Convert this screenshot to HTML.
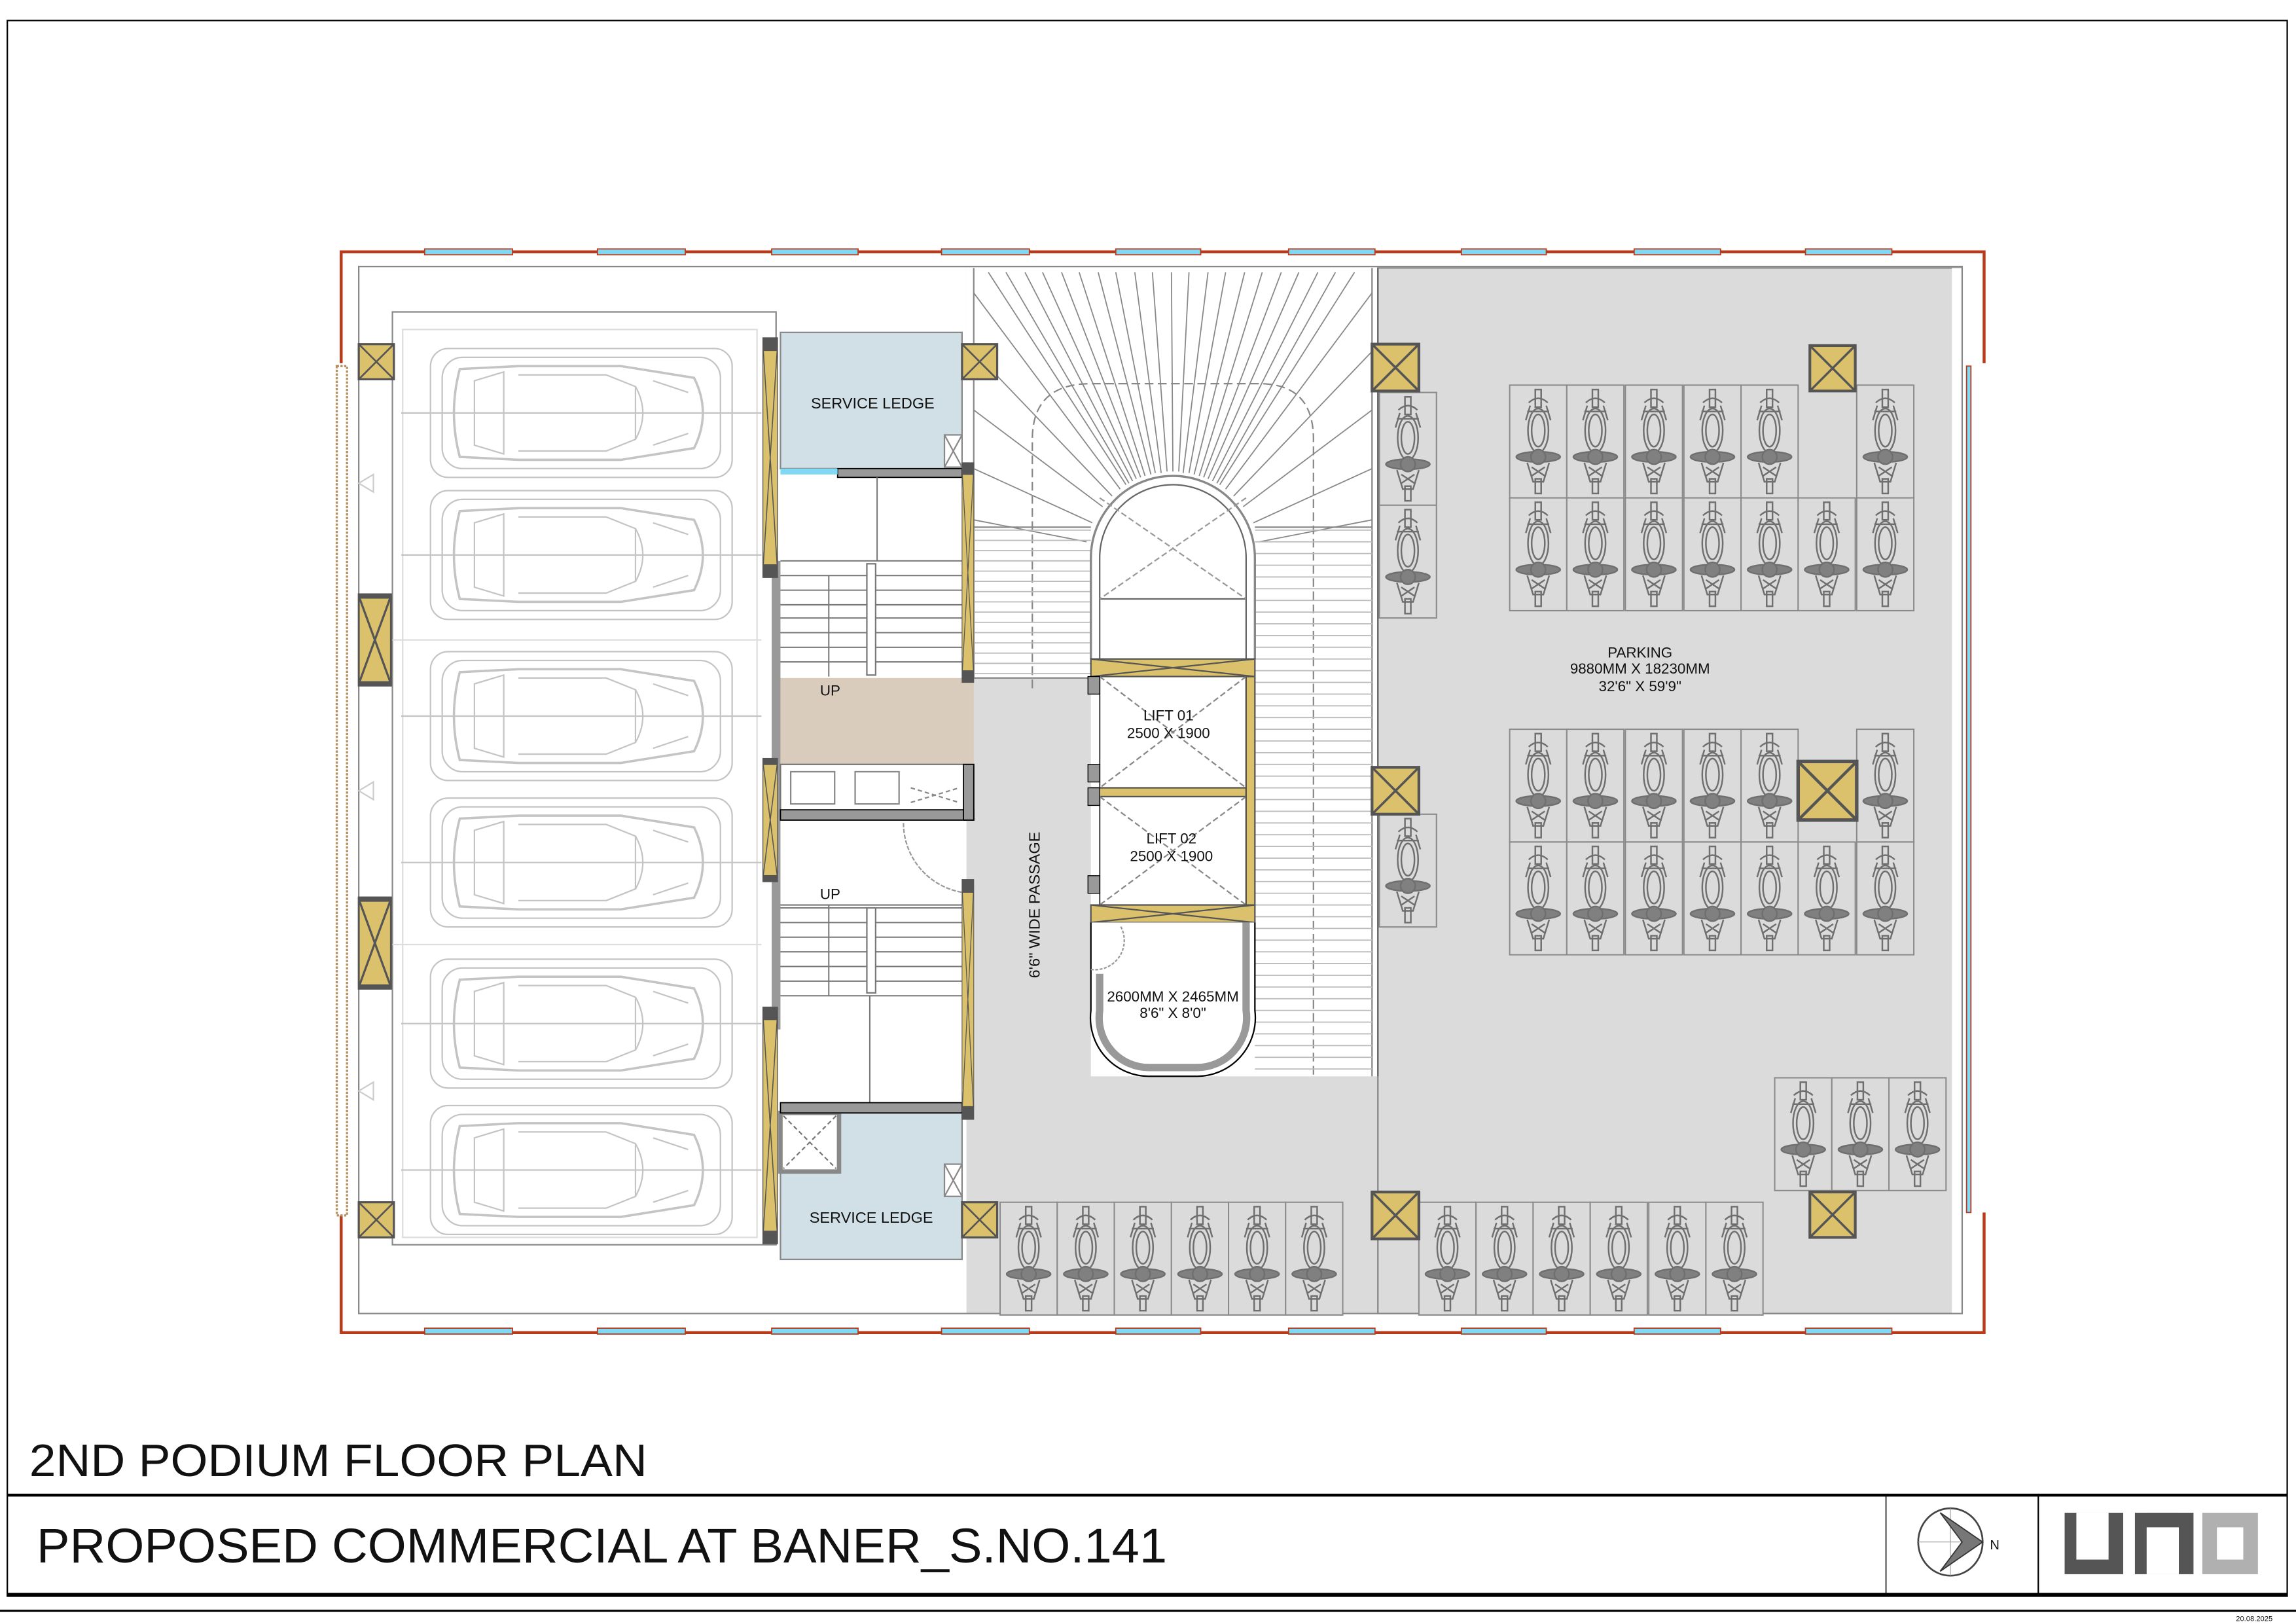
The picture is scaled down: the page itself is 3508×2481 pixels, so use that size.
<!DOCTYPE html>
<html><head><meta charset="utf-8"><style>
html,body{margin:0;padding:0;background:#fff;}
svg{display:block;}
text{font-family:"Liberation Sans",Arial,sans-serif;fill:#111;}
</style></head><body>
<svg width="3508" height="2481" viewBox="0 0 1568 1109" preserveAspectRatio="none" xmlns="http://www.w3.org/2000/svg">
<defs>
<g id="bike" fill="none" stroke="#6f6f6f" stroke-width="1.1">
 <rect x="0" y="0" width="39" height="77" fill="#dbdbdb" stroke="#8a8a8a" stroke-width="0.9"/>
 <rect x="17.5" y="3" width="4" height="12"/>
 <path d="M13 12 Q19.5 6 26 12 M12 18 L27 18"/>
 <ellipse cx="19.5" cy="31" rx="7" ry="15"/>
 <ellipse cx="19.5" cy="31" rx="4.5" ry="11"/>
 <ellipse cx="19.5" cy="49" rx="15" ry="3.5" fill="#808080"/>
 <circle cx="19.5" cy="49" r="5" fill="#808080"/>
 <path d="M12 53 L16 66 L23 66 L27 53 M15 56 L24 62 M24 56 L15 62"/>
 <rect x="17.5" y="64" width="4" height="10"/>
 <path d="M14 14 L11 24 M25 14 L28 24"/>
</g>
<g id="col">
 <rect x="0" y="0" width="1" height="1" fill="#dcc16c" stroke="#555" stroke-width="0.06"/>
 <path d="M0 0 L1 1 M1 0 L0 1" stroke="#555" stroke-width="0.05"/>
</g>
<g id="car" fill="none" stroke="#c4c4c4" stroke-width="1">
 <rect x="0" y="0" width="206" height="88" rx="12"/>
 <rect x="8" y="6" width="190" height="76" rx="14"/>
 <path d="M20 14 L60 12 L130 12 L180 20 Q192 44 180 68 L130 76 L60 76 L20 74 Q12 44 20 14Z" stroke-width="1.6"/>
 <path d="M30 22 L50 16 L50 72 L30 66Z"/>
 <path d="M60 18 L120 18 L140 26 L140 62 L120 70 L60 70"/>
 <path d="M140 26 Q150 44 140 62"/>
 <path d="M152 22 L176 30 M152 66 L176 58"/>
 <line x1="-20" y1="44" x2="226" y2="44"/>
</g>
</defs>

<rect x="5" y="14" width="1557" height="1076" fill="none" stroke="#000" stroke-width="1"/>
<line x1="5" y1="1021" x2="1562" y2="1021" stroke="#000" stroke-width="2"/>
<line x1="5" y1="1089" x2="1562" y2="1089" stroke="#000" stroke-width="2.5"/>
<line x1="0" y1="1100" x2="1568" y2="1100" stroke="#000" stroke-width="1.5"/>
<line x1="1288" y1="1021" x2="1288" y2="1089" stroke="#000" stroke-width="0.7"/>
<line x1="1392" y1="1021" x2="1392" y2="1089" stroke="#000" stroke-width="1"/>

<rect x="660" y="183" width="680" height="714" fill="#dbdbdb"/>
<rect x="660" y="183" width="281" height="280" fill="#fff"/>
<rect x="745" y="325" width="196" height="410" fill="#fff"/>
<rect x="941" y="183" width="399" height="714" fill="#dbdbdb" stroke="#888" stroke-width="1"/>
<rect x="1333" y="183" width="7" height="714" fill="#fff"/>

<path d="M233 248 L233 172 L1355 172 L1355 248 M1355 828 L1355 910 L233 910 L233 830" fill="none" stroke="#b83a1a" stroke-width="2"/>
<g fill="#7fd9f5" stroke="#b83a1a" stroke-width="0.8">
 <rect x="290" y="170" width="60" height="4"/><rect x="408" y="170" width="60" height="4"/><rect x="527" y="170" width="59" height="4"/><rect x="643" y="170" width="60" height="4"/><rect x="762" y="170" width="58" height="4"/><rect x="880" y="170" width="59" height="4"/><rect x="998" y="170" width="58" height="4"/><rect x="1116" y="170" width="59" height="4"/><rect x="1233" y="170" width="59" height="4"/>
 <rect x="290" y="907" width="60" height="4"/><rect x="408" y="907" width="60" height="4"/><rect x="527" y="907" width="59" height="4"/><rect x="643" y="907" width="60" height="4"/><rect x="762" y="907" width="58" height="4"/><rect x="880" y="907" width="59" height="4"/><rect x="998" y="907" width="58" height="4"/><rect x="1116" y="907" width="59" height="4"/><rect x="1233" y="907" width="59" height="4"/>
 <rect x="1343" y="250" width="3" height="578"/>
</g>
<rect x="230" y="250" width="7" height="580" fill="#fff" stroke="#b89060" stroke-width="1.5" stroke-dasharray="1.5 1"/>
<rect x="245" y="182" width="1095" height="715" fill="none" stroke="#888" stroke-width="1"/>

<rect x="268" y="213" width="262" height="637" fill="none" stroke="#888" stroke-width="1"/>
<rect x="275" y="225" width="242" height="620" fill="none" stroke="#ddd" stroke-width="1"/>
<g stroke="#ddd"><line x1="268" y1="437" x2="520" y2="437"/><line x1="268" y1="645" x2="520" y2="645"/></g>
<use href="#car" x="294" y="238"/><use href="#car" x="294" y="335"/>
<use href="#car" x="294" y="445"/><use href="#car" x="294" y="545"/>
<use href="#car" x="294" y="655"/><use href="#car" x="294" y="755"/>
<g fill="none" stroke="#ccc"><path d="M245 330 l10 -6 v12z M245 540 l10 -6 v12z M245 745 l10 -6 v12z"/></g>

<rect x="533" y="227" width="124" height="93" fill="#d1e0e6" stroke="#888"/>
<rect x="533" y="760" width="124" height="100" fill="#d1e0e6" stroke="#888"/>
<rect x="533" y="760" width="40" height="40" fill="#fff" stroke="#888" stroke-width="3"/>
<path d="M535 762 L571 798 M571 762 L535 798" stroke="#777" stroke-dasharray="3 2"/>
<rect x="645" y="297" width="12" height="22" fill="#fff" stroke="#888"/><path d="M645 297 L657 319 M657 297 L645 319" stroke="#888"/>
<rect x="645" y="795" width="12" height="22" fill="#fff" stroke="#888"/><path d="M645 795 L657 817 M657 795 L645 817" stroke="#888"/>
<rect x="572" y="320" width="85" height="6" fill="#999" stroke="#000" stroke-width="0.8"/>
<rect x="533" y="320" width="39" height="4" fill="#7fd9f5"/>
<text x="596" y="279" font-size="10.5" text-anchor="middle">SERVICE LEDGE</text>
<text x="595" y="835" font-size="10.5" text-anchor="middle">SERVICE LEDGE</text>

<rect x="527" y="383" width="6" height="320" fill="#999"/>
<g stroke="#777" stroke-width="0.9">
 <line x1="599" y1="326" x2="599" y2="383"/>
 <line x1="533" y1="383" x2="657" y2="383"/>
 <path d="M533 393h124M533 403h124M533 413h124M533 422h124M533 432h124M533 442h124M533 452h124"/>
 <path d="M533 620h124M533 630h124M533 640h124M533 650h124M533 660h124M533 670h124M533 680h124"/>
 <line x1="533" y1="618" x2="657" y2="618"/>
 <line x1="594" y1="680" x2="594" y2="758"/>
 <line x1="566" y1="393" x2="566" y2="462"/><line x1="566" y1="618" x2="566" y2="680"/>
</g>
<rect x="592" y="385" width="6" height="76" fill="#fff" stroke="#777"/>
<rect x="592" y="620" width="6" height="58" fill="#fff" stroke="#777"/>
<rect x="533" y="463" width="132" height="59" fill="#d9ccbc"/>
<rect x="533" y="522" width="132" height="38" fill="#fff" stroke="#777"/>
<rect x="533" y="553" width="132" height="7" fill="#999" stroke="#000" stroke-width="0.8"/>
<rect x="658" y="522" width="7" height="38" fill="#999" stroke="#000" stroke-width="0.8"/>
<g fill="none" stroke="#888"><rect x="540" y="527" width="30" height="22"/><rect x="584" y="527" width="30" height="22"/><path d="M622 538 L655 548 M622 548 L655 538" stroke-dasharray="3 2"/></g>
<rect x="533" y="753" width="124" height="7" fill="#999" stroke="#000" stroke-width="0.8"/>
<path d="M617 562 A48 48 0 0 0 665 610" fill="none" stroke="#999" stroke-dasharray="3 1"/>
<text x="560" y="475" font-size="10">UP</text>
<text x="560" y="614" font-size="10">UP</text>

<line x1="665" y1="183" x2="665" y2="463" stroke="#888"/>
<line x1="937" y1="183" x2="937" y2="735" stroke="#888"/>
<line x1="941" y1="183" x2="941" y2="735" stroke="#666"/>
<g stroke="#888" stroke-width="0.8">
 <path d="M769 331L675 186M773.5 328.5L700 186M779 326L725 186M786 324L750 186M793 323L775 186M801 322L800 186M808 323L825 186M815.5 324L850 186M822 326L875 186M828 328.5L900 186M833 331L925 186"/>
 <path d="M771 330L687 186M776 327L712 186M782 325L737 186M789 323L762 186M797 322L787 186M805 322L812 186M812 323L837 186M819 325L862 186M825 327L887 186M831 330L912 186"/>
 <path d="M765 334L665 200M759.5 338.7L665 240M753 346L665 280M746 357L665 320M742 370L665 355"/>
 <path d="M837 334L937 200M842.5 338.7L937 240M849 346L937 280M856 357L937 320M860 370L937 355"/>
</g>
<path d="M705 470 L705 300 Q705 262 745 262 L860 262 Q897 262 897 300 L897 735" fill="none" stroke="#888" stroke-dasharray="6 3"/>
<g stroke="#bbb" stroke-width="0.8">
 <path d="M665 362h80M665 369h80M665 376h80M665 383h80M665 390h80M665 397h80M665 404h80M665 411h80M665 418h80M665 425h80M665 432h80M665 439h80M665 446h80M665 453h80M665 460h80"/>
 <path d="M857 362h80M857 370h80M857 378h80M857 386h80M857 394h80M857 402h80M857 410h80M857 418h80M857 426h80M857 434h80M857 442h80M857 450h80M857 458h80M857 466h80M857 474h80M857 482h80M857 490h80M857 498h80M857 506h80M857 514h80M857 522h80M857 530h80M857 538h80M857 546h80M857 554h80M857 562h80M857 570h80M857 578h80M857 586h80M857 594h80M857 602h80M857 610h80M857 618h80M857 626h80M857 634h80M857 642h80M857 650h80M857 658h80M857 666h80M857 674h80M857 682h80M857 690h80M857 698h80M857 706h80M857 714h80M857 722h80M857 730h80"/>
</g>
<line x1="665" y1="360" x2="745" y2="360" stroke="#888"/><line x1="857" y1="360" x2="937" y2="360" stroke="#888"/>
<line x1="665" y1="463" x2="745" y2="463" stroke="#888"/>

<path d="M745 450 L745 381 A56 56 0 0 1 857 381 L857 450" fill="#fff" stroke="#888" stroke-width="1.5"/>
<path d="M751 450 L751 381 A50 50 0 0 1 851 381 L851 450" fill="none" stroke="#666"/>
<line x1="751" y1="409" x2="851" y2="409" stroke="#666"/>
<path d="M751 340 L851 409 M851 340 L751 409" stroke="#999" stroke-dasharray="4 2"/>
<rect x="745" y="450" width="112" height="12" fill="#dcc16c" stroke="#555"/>
<path d="M745 450 L857 462 M857 450 L745 462" stroke="#555"/>
<rect x="751" y="462" width="100" height="76" fill="#fff" stroke="#555"/>
<path d="M751 462 L851 538 M851 462 L751 538" stroke="#888" stroke-dasharray="4 2"/>
<rect x="745" y="538" width="106" height="6" fill="#dcc16c" stroke="#555"/>
<rect x="751" y="544" width="100" height="74" fill="#fff" stroke="#555"/>
<path d="M751 544 L851 618 M851 544 L751 618" stroke="#888" stroke-dasharray="4 2"/>
<rect x="745" y="618" width="112" height="12" fill="#dcc16c" stroke="#555"/>
<path d="M745 618 L857 630 M857 618 L745 630" stroke="#555"/>
<rect x="851" y="462" width="6" height="156" fill="#dcc16c" stroke="#555"/>
<rect x="743" y="462" width="8" height="12" fill="#999" stroke="#000" stroke-width="0.6"/>
<rect x="743" y="522" width="8" height="12" fill="#999" stroke="#000" stroke-width="0.6"/>
<rect x="743" y="538" width="8" height="12" fill="#999" stroke="#000" stroke-width="0.6"/>
<rect x="743" y="598" width="8" height="12" fill="#999" stroke="#000" stroke-width="0.6"/>
<path d="M745 630 L745 690 A40 40 0 0 0 785 735 L817 735 A40 40 0 0 0 857 690 L857 630" fill="#fff" stroke="#000" stroke-width="1"/>
<path d="M751 665 L751 690 A34 34 0 0 0 785 729 L817 729 A34 34 0 0 0 851 690 L851 630" fill="none" stroke="#999" stroke-width="5"/>
<path d="M745 662 A20 20 0 0 0 765 632" fill="none" stroke="#999" stroke-dasharray="2 1"/>
<text x="798" y="492" font-size="10" text-anchor="middle">LIFT 01</text>
<text x="798" y="504" font-size="10" text-anchor="middle">2500 X 1900</text>
<text x="800" y="576" font-size="10" text-anchor="middle">LIFT 02</text>
<text x="800" y="588" font-size="10" text-anchor="middle">2500 X 1900</text>
<text x="801" y="684" font-size="10" text-anchor="middle">2600MM X 2465MM</text>
<text x="801" y="695" font-size="10" text-anchor="middle">8'6" X 8'0"</text>
<text transform="translate(710,668) rotate(-90)" font-size="10.5">6'6" WIDE PASSAGE</text>

<g>
 <use href="#bike" x="942" y="268"/><use href="#bike" x="942" y="345"/><use href="#bike" x="942" y="556"/>
 <use href="#bike" x="1031" y="263"/><use href="#bike" x="1070" y="263"/><use href="#bike" x="1110" y="263"/><use href="#bike" x="1150" y="263"/><use href="#bike" x="1189" y="263"/><use href="#bike" x="1268" y="263"/>
 <use href="#bike" x="1031" y="340"/><use href="#bike" x="1070" y="340"/><use href="#bike" x="1110" y="340"/><use href="#bike" x="1150" y="340"/><use href="#bike" x="1189" y="340"/><use href="#bike" x="1228" y="340"/><use href="#bike" x="1268" y="340"/>
 <use href="#bike" x="1031" y="498"/><use href="#bike" x="1070" y="498"/><use href="#bike" x="1110" y="498"/><use href="#bike" x="1150" y="498"/><use href="#bike" x="1189" y="498"/><use href="#bike" x="1268" y="498"/>
 <use href="#bike" x="1031" y="575"/><use href="#bike" x="1070" y="575"/><use href="#bike" x="1110" y="575"/><use href="#bike" x="1150" y="575"/><use href="#bike" x="1189" y="575"/><use href="#bike" x="1228" y="575"/><use href="#bike" x="1268" y="575"/>
 <use href="#bike" x="683" y="821"/><use href="#bike" x="722" y="821"/><use href="#bike" x="761" y="821"/><use href="#bike" x="800" y="821"/><use href="#bike" x="839" y="821"/><use href="#bike" x="878" y="821"/>
 <use href="#bike" x="969" y="821"/><use href="#bike" x="1008" y="821"/><use href="#bike" x="1047" y="821"/><use href="#bike" x="1086" y="821"/><use href="#bike" x="1126" y="821"/><use href="#bike" x="1165" y="821"/>
 <use href="#bike" x="1212" y="736"/><use href="#bike" x="1251" y="736"/><use href="#bike" x="1290" y="736"/>
</g>
<text x="1120" y="449" font-size="10" text-anchor="middle">PARKING</text>
<text x="1120" y="460" font-size="10" text-anchor="middle">9880MM X 18230MM</text>
<text x="1120" y="472" font-size="10" text-anchor="middle">32'6" X 59'9"</text>

<use href="#col" transform="translate(245,235) scale(24,24)"/>
<use href="#col" transform="translate(245,407) scale(22,60)"/>
<use href="#col" transform="translate(245,614) scale(22,60)"/>
<use href="#col" transform="translate(245,821) scale(24,24)"/>
<use href="#col" transform="translate(521,235) scale(10,155)"/>
<use href="#col" transform="translate(521,520) scale(10,80)"/>
<use href="#col" transform="translate(521,692) scale(10,153)"/>
<use href="#col" transform="translate(657,320) scale(8,142)"/>
<use href="#col" transform="translate(657,605) scale(8,155)"/>
<use href="#col" transform="translate(657,235) scale(24,24)"/>
<use href="#col" transform="translate(657,821) scale(24,24)"/>
<use href="#col" transform="translate(937,235) scale(32,32)"/>
<use href="#col" transform="translate(1236,236) scale(31,31)"/>
<use href="#col" transform="translate(937,524) scale(32,32)"/>
<use href="#col" transform="translate(1228,520) scale(40,40)"/>
<use href="#col" transform="translate(937,814) scale(32,32)"/>
<use href="#col" transform="translate(1236,814) scale(31,31)"/>

<text x="20" y="1008" font-size="31" textLength="422" lengthAdjust="spacingAndGlyphs">2ND PODIUM FLOOR PLAN</text>
<text x="25" y="1067" font-size="33" textLength="772" lengthAdjust="spacingAndGlyphs">PROPOSED  COMMERCIAL AT BANER_S.NO.141</text>
<ellipse cx="1332" cy="1053" rx="22" ry="23" fill="none" stroke="#444" stroke-width="1.2"/>
<path d="M1310 1053 L1354 1053 M1332 1030 L1332 1076" stroke="#999" stroke-width="0.5"/>
<path d="M1325 1033 L1354 1053 L1325 1073 L1340 1053Z" fill="#777" stroke="#333" stroke-width="0.8"/>
<text x="1359" y="1058" font-size="9">N</text>
<g fill="#555">
 <rect x="1410" y="1033" width="40" height="42"/>
 <rect x="1458" y="1033" width="40" height="42"/>
</g>
<rect x="1418" y="1033" width="22" height="32" fill="#fff"/>
<rect x="1466" y="1043" width="22" height="32" fill="#fff"/>
<rect x="1466" y="1033" width="22" height="4" fill="#555"/>
<rect x="1504" y="1033" width="38" height="42" fill="#b0b0b0"/>
<rect x="1514" y="1043" width="18" height="22" fill="#fff"/>
<text x="1527" y="1107" font-size="5" fill="#555">20.08.2025</text>
</svg>
</body></html>
